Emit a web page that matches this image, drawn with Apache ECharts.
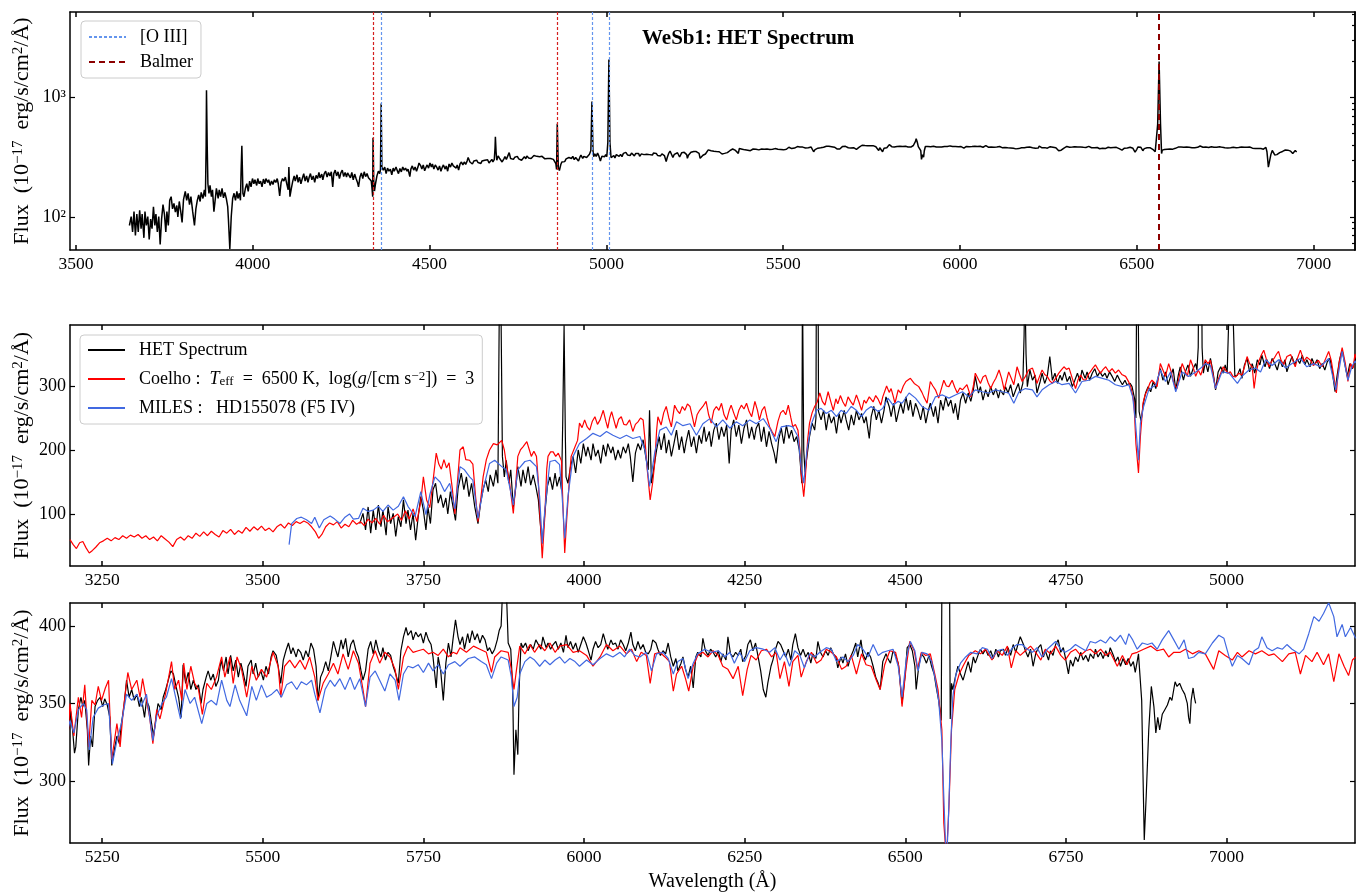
<!DOCTYPE html>
<html>
<head>
<meta charset="utf-8">
<script src="https://cdn.jsdelivr.net/npm/echarts@6/dist/echarts.min.js"></script>
<style>html,body{margin:0;padding:0;background:#fff}#chart{width:1356px;height:896px}</style>
</head>
<body>
<div id="chart"></div>
<script>
// ---------- tick values ----------
const xTicksTop = [3500,4000,4500,5000,5500,6000,6500,7000];
const xTicksMid = [3250,3500,3750,4000,4250,4500,4750,5000];
const xTicksBot = [5250,5500,5750,6000,6250,6500,6750,7000];
const yTicksTop = [100,1000];
const yMinorTop = [60,70,80,90,200,300,400,500,600,700,800,900,2000,3000,4000,5000];
const yTicksMid = [100,200,300];
const yTicksBot = [300,350,400];
// ---------- line identifications (Å) ----------
const oiiiLines = [4363,4959,5007];
const balmerLines = [4340,4861];
const halphaLine = [6563];
// ---------- HET spectrum [wavelength Å, flux] ----------
const hetSpectrum = [
[3651,85],[3656,101],[3660,75],[3664,111],[3668,70],[3672,106],[3676,75],[3680,114],[3684,80],[3687,106],[3692,67],[3695,111],[3699,85],[3703,101],[3707,65],[3711,96],[3715,80],[3719,122],[3723,85],[3726,106],[3730,75],[3734,101],[3738,59],[3742,96],[3746,127],[3750,106],[3754,75],[3757,111],[3761,85],[3765,138],[3769,148],[3773,117],[3777,130],[3781,110],[3785,125],[3788,100],[3792,135],[3796,112],[3800,90],[3804,140],[3809,164],[3813,138],[3817,158],[3821,127],[3825,148],[3830,111],[3835,85],[3839,117],[3843,138],[3847,153],[3851,135],[3854,161],[3859,143],[3863,169],[3866,148],[3868,400],[3869,1150],[3871,400],[3873,190],[3876,158],[3879,184],[3883,148],[3886,169],[3890,111],[3894,143],[3897,174],[3902,143],[3905,169],[3909,148],[3913,174],[3917,145],[3921,161],[3925,143],[3929,122],[3931,96],[3935,54],[3939,101],[3943,143],[3947,158],[3951,138],[3955,164],[3958,143],[3962,158],[3965,138],[3967,250],[3969,395],[3971,220],[3972,158],[3975,148],[3979,174],[3983,190],[3987,164],[3991,200],[3995,179],[3999,210],
[4003,190],[4006,205],[4011,184],[4014,210],[4018,190],[4022,200],[4026,179],[4030,208],[4034,190],[4037,210],[4042,195],[4045,205],[4049,184],[4053,200],[4057,187],[4061,205],[4065,195],[4069,210],[4072,190],[4076,150],[4080,195],[4084,210],[4088,200],[4092,216],[4096,190],[4100,169],[4102,262],[4105,148],[4109,174],[4113,200],[4117,221],[4120,200],[4125,226],[4128,195],[4132,216],[4136,190],[4140,210],[4144,231],[4148,200],[4152,221],[4156,195],[4159,213],[4163,231],[4167,205],[4171,221],[4175,195],[4179,223],[4183,210],[4187,236],[4190,213],[4195,229],[4198,205],[4202,231],[4206,242],[4210,216],[4214,236],[4218,221],[4222,239],[4226,179],[4229,231],[4233,247],[4237,221],[4241,239],[4245,210],[4249,234],[4253,247],[4257,218],[4261,236],[4265,216],[4268,234],[4272,242],[4276,213],[4280,236],[4284,205],[4288,229],[4292,210],[4296,195],[4299,179],[4303,216],[4307,234],[4311,210],[4315,239],[4319,218],[4323,231],[4327,213],[4331,221],[4335,200],[4337,175],[4339,148],[4340,460],[4342,200],[4344,165],[4347,190],[4351,221],[4355,242],[4359,231],[4361,250],[4363,890],[4365,260],[4369,247],[4373,262],[4377,231],[4381,257],[4385,242],[4389,252],[4393,226],[4397,257],[4400,242],[4405,262],[4408,247],[4412,231],[4416,255],[4420,239],[4424,262],[4428,247],[4432,257],[4436,242],[4439,252],[4444,218],[4447,252],[4451,268],[4455,247],[4459,262],[4463,242],[4467,262],[4470,283],[4475,268],[4478,252],[4482,273],[4486,244],[4490,262],
[4493,273],[4497,257],[4501,283],[4505,262],[4508,278],[4512,252],[4516,273],[4520,262],[4524,247],[4528,268],[4532,242],[4536,262],[4539,273],[4544,252],[4547,268],[4551,242],[4555,278],[4559,262],[4563,283],[4567,268],[4571,278],[4575,257],[4578,273],[4582,247],[4586,278],[4590,289],[4594,273],[4598,289],[4602,276],[4606,294],[4609,315],[4614,289],[4617,299],[4621,278],[4625,294],[4629,283],[4633,299],[4637,286],[4641,296],[4645,281],[4648,294],[4653,286],[4656,299],[4660,289],[4664,302],[4668,283],[4672,294],[4676,304],[4679,289],[4683,304],[4685,380],[4686,470],[4688,350],[4690,299],[4694,325],[4698,309],[4702,317],[4705,289],[4710,307],[4713,320],[4717,304],[4721,315],[4725,346],[4729,309],[4733,320],[4737,304],[4741,317],[4744,309],[4748,322],[4752,307],[4756,315],[4760,299],[4764,309],[4768,320],[4772,307],[4775,325],[4780,312],[4783,322],[4787,309],[4791,320],[4795,327],[4799,315],[4803,322],[4807,315],[4811,320],[4814,312],[4818,322],[4822,315],[4826,307],[4830,317],[4834,309],[4838,302],[4842,309],[4845,302],[4850,304],[4853,299],[4857,280],[4859,250],[4861,604],[4864,260],[4867,245],[4871,275],[4874,289],[4878,299],[4882,291],[4886,307],[4890,296],[4894,315],[4897,327],[4901,309],[4905,322],[4909,302],[4913,315],[4917,327],[4921,294],[4925,317],[4928,330],[4933,309],[4936,322],[4940,333],[4944,315],[4948,327],[4952,335],[4954,325],[4956,360],[4959,925],[4962,360],[4964,320],[4967,338],[4971,322],[4975,343],[4979,322],[4983,294],[4987,322],[4991,330],[4995,320],[4998,333],
[5001,320],[5004,420],[5007,2080],[5010,420],[5013,315],[5017,317],[5021,327],[5024,312],[5028,333],[5032,343],[5036,322],[5040,335],[5044,320],[5048,341],[5052,333],[5055,348],[5060,330],[5063,341],[5067,327],[5071,343],[5075,335],[5079,325],[5083,341],[5087,330],[5091,341],[5094,322],[5099,338],[5102,346],[5106,333],[5110,343],[5114,335],[5118,348],[5122,333],[5125,341],[5130,330],[5133,343],[5137,333],[5141,341],[5145,327],[5149,335],[5153,325],[5157,338],[5161,343],[5164,327],[5169,291],[5172,315],[5176,341],[5180,356],[5184,335],[5188,315],[5192,335],[5196,327],
[5201,345],[5204,333],[5207,318],[5209,322],[5213,346],[5217,354],[5220,348],[5223,352],[5227,333],[5229,310],[5232,329],[5235,322],[5239,348],[5243,352],[5247,354],[5251,348],[5254,353],[5258,349],[5262,341],[5265,310],[5269,320],[5273,329],[5277,324],[5280,337],[5284,348],[5288,365],[5292,354],[5296,359],[5300,352],[5304,356],[5308,348],[5311,354],[5316,341],[5319,352],[5323,348],[5327,337],[5330,329],[5334,341],[5337,350],[5342,346],[5345,354],[5349,359],[5353,365],[5357,371],[5361,369],[5365,361],[5369,354],[5373,341],[5376,375],[5380,363],[5384,370],[5388,359],[5392,365],[5396,359],[5400,362],[5404,350],[5407,359],[5412,367],[5415,371],[5419,365],[5423,369],[5427,361],[5431,365],[5435,378],[5439,371],[5443,380],[5446,369],[5450,381],[5454,371],[5458,378],[5462,367],[5466,376],[5470,369],[5474,361],[5477,374],[5482,378],[5485,369],[5489,376],[5493,367],[5497,371],[5501,365],[5505,374],[5509,369],[5513,380],[5516,384],[5521,381],[5524,374],[5528,363],[5532,378],[5536,384],[5540,389],[5544,382],[5547,386],[5552,380],[5555,385],[5559,383],[5563,378],[5567,384],[5571,380],[5575,389],[5579,385],[5583,374],[5586,352],[5590,367],[5594,371],[5598,377],[5602,371],[5606,380],[5610,390],[5614,384],[5617,380],[5622,391],[5625,385],[5629,392],[5633,380],[5637,388],[5641,391],[5645,384],[5649,380],[5653,371],[5656,365],[5660,371],[5664,385],[5668,390],[5672,382],[5676,391],[5680,384],[5684,380],[5687,386],[5691,378],[5695,383],[5699,381],[5703,374],[5707,369],[5711,363],[5715,384],[5719,393],[5723,399],[5726,394],[5731,397],[5734,391],[5738,396],[5742,393],[5746,395],[5750,389],[5754,396],[5758,391],[5762,388],[5765,380],[5770,360],[5773,380],[5777,371],[5781,352],[5785,376],[5789,389],[5793,380],[5796,391],[5800,404],[5804,393],
[5807,388],[5811,393],[5814,385],[5819,395],[5822,389],[5826,397],[5830,391],[5834,395],[5838,389],[5842,394],[5846,391],[5850,384],[5853,386],[5857,382],[5861,385],[5865,391],[5868,397],[5871,400],[5874,430],[5876,452],[5879,425],[5882,389],[5886,385],[5889,359],[5891,304],[5894,333],[5897,317],[5899,359],[5902,389],[5905,386],[5909,389],[5913,384],[5917,388],[5921,385],[5925,391],[5929,388],[5933,385],[5936,393],[5941,386],[5944,389],[5948,385],[5952,388],[5956,390],[5960,385],[5964,389],[5968,383],[5972,394],[5975,386],[5979,390],[5983,385],[5987,389],[5991,383],[5995,388],[5999,393],[6003,389],[6006,385],[6011,378],[6014,385],[6018,390],[6022,386],[6026,388],[6030,395],[6034,389],[6037,385],[6042,391],[6045,388],[6049,389],[6053,385],[6057,391],[6061,388],[6065,384],[6069,389],[6073,396],[6076,388],[6080,384],[6084,390],[6088,385],[6092,388],[6096,383],[6100,382],[6104,385],[6107,391],[6112,389],[6115,385],[6119,381],[6123,384],[6127,382],[6131,389],[6135,380],[6139,374],[6143,379],[6146,371],[6151,376],[6154,380],[6158,372],[6162,367],[6166,374],[6170,360],[6174,380],[6177,383],[6182,380],[6185,392],[6189,384],[6193,381],[6197,385],[6201,383],[6205,380],[6209,384],[6213,377],[6216,382],[6221,378],[6224,393],[6228,382],[6232,380],[6236,383],[6240,381],[6244,385],[6247,377],[6252,381],[6255,388],[6259,391],[6263,384],[6267,389],[6271,380],[6275,371],[6279,359],[6283,354],[6286,363],[6291,374],[6294,378],[6298,385],[6302,390],[6306,388],[6310,384],[6314,380],[6318,385],[6322,378],[6325,388],[6329,395],[6333,386],[6337,381],[6341,385],[6345,380],[6349,383],[6353,376],[6356,382],[6361,379],[6364,390],[6368,383],[6372,380],[6376,384],[6380,381],[6384,386],[6388,382],[6392,380],[6395,373],[6400,380],[6403,376],[6407,382],[6411,374],[6415,380],[6419,384],[6423,389],[6426,380],[6431,391],[6434,382],[6438,378],[6442,383],[6446,380],[6450,374],[6454,367],[6458,363],[6461,359],[6465,377],[6470,382],[6473,379],[6477,376],[6481,384],[6485,381],[6489,376],
[6491,369],[6495,350],[6500,369],[6503,386],[6507,388],[6511,384],[6515,374],[6517,359],[6521,374],[6525,382],[6529,380],[6533,376],[6537,381],[6541,374],[6545,369],[6548,361],[6552,352],[6556,339],[6559,600],[6563,2000],[6567,600],[6570,340],[6572,363],[6574,359],[6578,367],[6582,374],[6586,369],[6590,365],[6594,371],[6598,377],[6602,370],[6606,380],[6609,376],[6614,382],[6617,385],[6621,382],[6625,385],[6629,381],[6633,384],[6637,379],[6641,385],[6645,380],[6648,384],[6653,385],[6656,381],[6660,386],[6664,381],[6668,388],[6672,383],[6676,389],[6679,393],[6684,388],[6687,384],[6691,380],[6695,385],[6699,374],[6703,382],[6707,386],[6711,388],[6715,380],[6718,384],[6723,378],[6726,384],[6730,381],[6734,388],[6738,391],[6742,383],[6746,386],[6749,380],[6754,369],[6757,378],[6761,374],[6765,380],[6769,377],[6773,383],[6777,378],[6781,381],[6785,377],[6788,382],[6793,379],[6796,385],[6800,380],[6804,383],[6808,379],[6812,384],[6816,380],[6819,386],[6824,381],[6827,377],[6831,380],[6835,374],[6839,379],[6843,375],[6847,379],[6851,374],[6855,377],[6858,370],[6863,382],[6865,383],[6868,352],[6870,305],[6872,262],[6875,290],[6879,333],[6883,361],[6887,348],[6890,331],[6893,341],[6896,333],[6900,343],[6904,346],[6908,349],[6912,354],[6915,352],[6920,364],[6923,361],[6927,363],[6931,359],[6935,356],[6939,350],[6941,341],[6943,337],[6945,352],[6948,360],[6950,354],[6952,350]
];
// ---------- Coelho synthetic spectrum ----------
const coelhoModel = [
[3200,60],[3205,52],[3210,46],[3215,55],[3220,57],[3225,47],[3230,39],[3235,43],[3240,48],[3246,55],[3252,58],[3258,62],[3264,58],[3270,63],[3276,60],[3282,66],[3288,62],[3294,67],[3300,64],[3306,68],[3312,62],[3318,66],[3324,60],[3330,64],[3336,58],[3342,66],[3348,61],[3354,56],[3360,49],[3366,60],[3372,64],[3378,59],[3384,66],[3390,62],[3396,70],[3402,65],[3408,72],[3414,66],[3420,73],[3426,68],[3432,64],[3438,74],[3444,70],[3450,76],[3456,68],[3462,74],[3468,70],[3474,79],[3480,73],[3486,80],[3492,75],[3498,81],[3504,74],[3510,78],[3516,72],[3522,80],[3528,84],[3534,78],[3540,86],[3546,82],[3552,88],[3558,85],[3564,89],[3570,86],[3576,80],[3582,72],[3587,62],[3592,68],[3598,80],[3604,86],[3610,83],[3616,88],[3622,78],[3628,84],[3634,80],[3640,90],[3646,84],[3652,88],[3658,82],[3664,92],[3670,86],[3676,93],[3682,84],[3688,98],[3694,88],[3700,92],[3710,100],[3716,90],[3722,105],[3728,92],[3734,108],[3740,88],[3746,120],[3750,158],[3755,122],[3760,110],[3766,160],[3770,195],[3774,178],[3778,170],[3782,185],[3786,172],[3790,180],[3795,140],[3799,100],
[3803,150],[3807,200],[3812,205],[3816,185],[3822,184],[3827,178],[3831,130],[3835,88],[3839,120],[3843,158],[3848,185],[3853,200],[3859,210],[3865,208],[3872,215],[3876,200],[3879,179],[3884,150],[3890,101],[3894,150],[3897,190],[3901,200],[3905,205],[3911,213],[3915,200],[3918,190],[3922,198],[3926,190],[3929,150],[3931,106],[3935,31],[3939,96],[3942,170],[3944,190],[3948,197],[3952,197],[3956,190],[3960,195],[3965,183],[3967,120],[3970,39],[3973,90],[3975,120],[3978,165],[3980,190],[3986,205],[3990,215],[3993,242],[3997,235],[4001,247],[4005,236],[4009,231],[4013,245],[4017,252],[4021,240],[4025,247],[4030,262],[4034,245],[4037,234],[4040,250],[4043,260],[4047,245],[4050,234],[4054,248],[4058,252],[4062,240],[4066,239],[4071,247],[4076,229],[4080,240],[4084,244],[4088,250],[4092,247],[4095,215],[4098,174],[4103,122],[4107,150],[4110,179],[4113,230],[4115,252],[4120,239],[4124,258],[4128,268],[4132,250],[4136,236],[4141,270],[4145,262],[4149,257],[4153,268],[4157,262],[4161,272],[4165,268],[4169,250],[4172,236],[4176,255],[4180,262],[4185,268],[4190,276],[4194,255],[4198,242],[4202,262],[4206,268],[4210,262],[4214,273],[4218,255],[4222,247],[4226,262],[4229,270],[4233,258],[4237,247],[4241,262],[4245,270],[4249,264],[4253,273],[4257,260],[4261,252],[4266,276],[4270,262],[4273,247],[4277,262],[4281,268],[4285,250],[4289,236],[4293,228],[4297,221],[4302,245],[4306,258],[4310,262],[4314,255],[4318,270],[4322,250],[4325,236],[4329,240],[4333,231],[4336,200],[4338,164],[4342,127],[4344,150],[4346,180],[4348,215],[4351,242],[4355,258],[4359,268],[4363,275],[4367,289],[4371,276],[4375,270],[4380,291],[4384,276],[4388,262],[4392,280],[4395,272],[4399,285],[4403,275],[4407,268],[4411,283],[4415,276],[4419,270],[4424,286],[4428,275],[4432,262],[4436,278],[4439,273],[4444,283],[4450,275],[4454,285],[4458,279],[4462,270],[4465,283],[4471,300],[4475,290],[4478,296],[4481,285],[4484,273],[4489,294],
[4493,289],[4497,300],[4501,307],[4508,312],[4514,304],[4521,299],[4526,290],[4529,283],[4534,273],[4539,307],[4543,300],[4547,294],[4552,281],[4556,295],[4560,309],[4564,300],[4568,299],[4573,309],[4577,298],[4581,289],[4585,297],[4589,294],[4596,302],[4602,283],[4606,300],[4609,320],[4613,312],[4617,304],[4621,314],[4625,317],[4629,305],[4633,296],[4637,305],[4641,312],[4646,325],[4650,312],[4654,294],[4658,310],[4661,322],[4665,312],[4669,302],[4674,330],[4678,318],[4682,307],[4687,315],[4692,325],[4698,328],[4702,316],[4705,304],[4709,315],[4713,325],[4717,318],[4721,315],[4725,308],[4729,304],[4734,312],[4739,320],[4743,325],[4747,330],[4751,326],[4755,328],[4760,312],[4765,296],[4769,310],[4773,317],[4777,310],[4781,309],[4785,318],[4788,322],[4792,328],[4796,333],[4800,326],[4804,320],[4808,326],[4812,330],[4817,322],[4822,327],[4827,320],[4832,325],[4837,318],[4843,315],[4848,306],[4851,299],[4854,285],[4856,273],[4859,210],[4863,164],[4866,221],[4870,273],[4873,285],[4877,294],[4881,305],[4884,309],[4888,305],[4892,299],[4897,335],[4901,325],[4905,315],[4910,335],[4914,322],[4918,304],[4923,296],[4927,318],[4931,335],[4935,325],[4939,315],[4944,341],[4948,330],[4952,315],[4956,325],[4960,317],[4964,330],[4967,341],[4971,335],[4975,340],[4979,318],[4983,296],[4987,310],[4991,320],[4995,330],[4998,327],[5002,320],[5006,322],[5010,315],[5014,314],[5019,320],[5024,317],[5028,330],[5032,346],[5036,335],[5040,330],[5043,296],[5046,320],[5050,338],[5054,348],[5058,356],[5062,342],[5066,330],[5070,338],[5074,343],[5078,350],[5081,354],[5085,340],[5089,333],[5094,346],[5100,349],[5104,338],[5107,330],[5111,345],[5115,356],[5118,347],[5120,338],[5125,345],[5131,340],[5135,332],[5138,333],[5143,340],[5149,330],[5154,342],[5159,354],[5163,340],[5167,315],[5171,289],[5175,335],[5180,360],[5185,335],[5189,307],[5193,335],[5197,328],
[5200,350],[5206,329],[5213,354],[5218,341],[5223,362],[5229,322],[5234,352],[5239,349],[5244,361],[5249,352],[5255,360],[5260,365],[5265,314],[5273,337],[5278,322],[5283,346],[5290,370],[5296,359],[5304,365],[5309,354],[5313,366],[5319,352],[5324,341],[5329,324],[5335,346],[5340,340],[5345,349],[5350,359],[5358,377],[5363,359],[5369,365],[5374,352],[5377,376],[5382,359],[5388,374],[5394,363],[5400,359],[5406,343],[5413,363],[5420,359],[5428,367],[5436,380],[5441,367],[5449,380],[5454,363],[5460,380],[5467,372],[5475,354],[5483,374],[5490,365],[5498,372],[5506,367],[5516,383],[5524,374],[5528,354],[5534,374],[5542,378],[5550,373],[5558,378],[5566,372],[5573,380],[5581,367],[5586,352],[5594,363],[5602,369],[5610,376],[5617,369],[5625,382],[5633,372],[5641,384],[5649,376],[5656,359],[5660,348],[5667,376],[5675,384],[5682,376],[5690,383],[5698,380],[5706,372],[5711,359],[5719,380],[5726,387],[5734,383],[5742,384],[5750,385],[5758,382],[5765,383],[5773,381],[5781,385],[5789,380],[5796,383],[5802,382],[5807,386],[5817,383],[5828,387],[5838,385],[5848,383],[5856,370],[5861,380],[5871,384],[5882,383],[5887,372],[5891,359],[5895,372],[5900,387],[5908,382],[5916,388],[5923,383],[5931,388],[5939,384],[5947,389],[5955,383],[5962,387],[5973,388],[5983,383],[5993,384],[6004,381],[6014,374],[6025,380],[6035,388],[6045,384],[6056,387],[6066,382],[6074,385],[6082,377],[6089,383],[6097,381],[6103,363],[6110,382],[6118,383],[6126,380],[6133,377],[6139,358],[6144,369],[6152,374],[6158,366],[6163,358],[6170,374],[6177,381],[6185,383],[6193,380],[6201,384],[6209,381],[6216,374],[6224,372],[6232,366],[6240,374],[6247,355],[6254,372],[6260,381],[6268,378],[6276,384],[6284,385],[6292,380],[6299,383],[6305,366],[6312,377],[6319,361],[6325,377],[6333,381],[6338,367],[6346,377],[6354,383],[6362,376],[6369,378],[6377,385],[6385,383],[6393,380],[6401,372],[6408,374],[6416,381],[6424,369],[6432,382],[6439,375],[6447,374],[6455,365],[6461,359],[6468,375],[6476,384],
[6485,383],[6490,374],[6495,348],[6501,372],[6507,390],[6514,384],[6519,372],[6525,383],[6532,381],[6539,382],[6546,369],[6551,359],[6557,333],[6560,273],[6564,250],[6568,283],[6572,333],[6577,359],[6584,369],[6591,375],[6599,381],[6609,384],[6617,382],[6625,385],[6635,378],[6643,384],[6651,381],[6659,387],[6665,373],[6672,384],[6679,381],[6687,384],[6695,387],[6703,383],[6711,378],[6718,385],[6726,382],[6734,387],[6742,381],[6749,378],[6757,383],[6765,385],[6773,381],[6781,384],[6788,385],[6796,382],[6804,385],[6812,381],[6819,383],[6830,374],[6838,381],[6845,375],[6853,382],[6861,383],[6871,385],[6882,387],[6892,384],[6902,385],[6910,380],[6918,383],[6928,383],[6936,385],[6947,382],[6957,384],[6967,382],[6980,372],[6988,384],[6998,381],[7009,378],[7017,383],[7024,380],[7035,384],[7045,382],[7055,384],[7066,381],[7074,382],[7087,377],[7097,382],[7107,383],[7115,369],[7123,381],[7133,377],[7141,383],[7151,375],[7159,382],[7167,364],[7175,382],[7183,374],[7190,368],[7196,378],[7201,380]
];
// ---------- MILES star HD155078 ----------
const milesStar = [
[3541,52],[3545,85],[3553,93],[3560,95],[3568,91],[3576,85],[3581,95],[3588,78],[3595,91],[3605,97],[3612,92],[3620,85],[3628,95],[3635,100],[3641,92],[3649,93],[3656,109],[3664,104],[3672,106],[3680,112],[3687,104],[3695,114],[3703,106],[3711,112],[3719,127],[3726,112],[3737,96],[3746,135],[3754,99],[3760,130],[3768,158],[3776,150],[3783,135],[3791,148],[3799,108],[3807,174],[3814,169],[3822,158],[3827,153],[3835,93],[3843,138],[3853,179],[3861,184],[3872,174],[3879,169],[3890,114],[3897,169],[3908,182],[3916,184],[3926,174],[3931,127],[3935,54],[3939,106],[3947,182],[3955,184],[3962,177],[3966,127],[3970,62],[3975,127],[3983,190],[3993,210],
[4004,218],[4014,226],[4025,221],[4035,229],[4045,223],[4056,218],[4066,223],[4076,218],[4087,221],[4095,200],[4102,143],[4110,195],[4118,231],[4128,236],[4136,223],[4144,244],[4154,238],[4165,241],[4175,223],[4185,241],[4196,249],[4206,236],[4216,247],[4227,234],[4237,244],[4247,238],[4258,247],[4268,241],[4279,249],[4289,234],[4299,213],[4307,236],[4318,238],[4325,236],[4333,221],[4338,174],[4342,148],[4347,200],[4354,241],[4362,262],[4369,265],[4377,257],[4385,262],[4393,252],[4400,262],[4408,257],[4416,268],[4424,262],[4432,252],[4439,262],[4447,268],[4458,260],[4465,265],[4473,281],[4481,270],[4489,276],[4495,273],[4506,289],[4516,281],[4526,268],[4537,262],[4547,283],[4558,286],[4568,281],[4578,286],[4589,291],[4599,283],[4609,294],[4620,291],[4630,289],[4641,294],[4651,291],[4661,289],[4669,273],[4677,291],[4687,296],[4698,294],[4705,283],[4713,294],[4724,302],[4734,307],[4744,302],[4755,304],[4765,289],[4775,307],[4786,309],[4796,315],[4807,312],[4817,309],[4827,302],[4838,299],[4848,302],[4854,283],[4858,247],[4863,184],[4866,242],[4871,268],[4879,294],[4890,302],[4897,325],[4905,307],[4913,322],[4921,291],[4931,322],[4941,315],[4952,322],[4960,328],[4967,335],[4975,332],[4983,296],[4993,322],[5004,320],[5017,304],[5024,315],[5035,325],[5045,328],[5053,322],[5061,341],[5071,332],[5081,341],[5092,328],[5102,335],[5115,343],[5125,330],[5136,335],[5146,330],[5159,343],[5170,294],[5180,354],[5189,309],[5195,330],
[5200,339],[5206,331],[5213,346],[5221,350],[5226,346],[5230,320],[5236,341],[5244,347],[5252,349],[5260,350],[5266,311],[5273,326],[5280,337],[5288,356],[5296,352],[5304,356],[5311,348],[5319,356],[5329,326],[5335,342],[5343,350],[5350,354],[5358,366],[5366,351],[5372,340],[5379,359],[5387,350],[5394,354],[5405,337],[5413,350],[5420,352],[5428,349],[5436,365],[5444,352],[5449,348],[5457,362],[5464,352],[5475,342],[5483,361],[5490,352],[5498,362],[5506,354],[5514,356],[5522,359],[5529,354],[5537,362],[5545,364],[5553,359],[5560,364],[5568,362],[5576,365],[5581,356],[5589,344],[5597,359],[5605,365],[5612,361],[5620,366],[5628,359],[5636,367],[5643,359],[5651,366],[5660,348],[5667,367],[5675,371],[5682,365],[5690,358],[5698,369],[5706,365],[5712,352],[5719,369],[5726,374],[5734,373],[5742,375],[5750,370],[5758,376],[5765,371],[5773,375],[5781,369],[5789,375],[5799,377],[5807,374],[5820,379],[5830,380],[5840,377],[5848,375],[5856,366],[5864,376],[5871,380],[5882,378],[5887,367],[5891,348],[5896,354],[5900,369],[5908,377],[5916,380],[5923,378],[5931,374],[5939,378],[5947,375],[5955,378],[5962,380],[5970,376],[5978,379],[5986,377],[5993,374],[6004,378],[6014,375],[6025,379],[6035,382],[6045,380],[6056,383],[6063,380],[6071,385],[6079,381],[6087,380],[6097,383],[6105,371],[6113,382],[6123,383],[6131,379],[6139,369],[6146,377],[6154,379],[6162,366],[6170,376],[6177,382],[6188,385],[6198,383],[6209,384],[6219,380],[6227,383],[6234,376],[6242,383],[6250,377],[6258,384],[6268,386],[6279,385],[6289,383],[6297,386],[6305,378],[6312,383],[6320,374],[6328,384],[6336,381],[6343,373],[6351,382],[6359,380],[6367,383],[6377,386],[6385,385],[6393,377],[6403,380],[6411,377],[6419,381],[6426,388],[6434,385],[6442,380],[6450,388],[6458,381],[6465,383],[6473,384],[6481,385],
[6489,374],[6495,354],[6502,380],[6508,390],[6515,384],[6520,371],[6526,383],[6534,382],[6541,377],[6547,365],[6552,352],[6557,326],[6560,290],[6564,245],[6567,273],[6571,326],[6574,354],[6579,369],[6586,376],[6594,380],[6602,383],[6612,382],[6620,386],[6628,385],[6635,379],[6643,384],[6651,385],[6659,381],[6667,386],[6674,388],[6682,388],[6690,385],[6698,383],[6705,386],[6713,380],[6721,385],[6729,388],[6734,390],[6742,385],[6749,383],[6757,385],[6765,388],[6773,386],[6781,384],[6788,390],[6796,389],[6804,391],[6812,389],[6819,393],[6827,390],[6835,394],[6843,388],[6848,395],[6854,391],[6861,385],[6869,389],[6877,388],[6884,389],[6892,385],[6900,391],[6910,397],[6918,391],[6926,385],[6934,391],[6941,379],[6949,380],[6957,383],[6967,382],[6978,389],[6988,394],[6996,392],[7004,380],[7009,374],[7017,381],[7024,379],[7035,375],[7043,384],[7050,386],[7055,393],[7063,386],[7071,384],[7079,386],[7087,385],[7094,388],[7102,385],[7113,382],[7120,385],[7128,395],[7136,406],[7144,403],[7151,408],[7159,415],[7167,406],[7172,393],[7180,401],[7185,393],[7193,399],[7201,392]
];

// ---------- chart ----------
const FONT = 'Liberation Serif';
const chart = echarts.init(document.getElementById('chart'), null, {renderer: 'canvas'});

const yName = 'Flux  (10{sup|−17}  erg/s/cm{sup|2}/Å)';
const nameStyle = {
  fontFamily: FONT, fontSize: 22, color: '#000',
  rich: { sup: { fontFamily: FONT, fontSize: 15, verticalAlign: 'top', color: '#000' } }
};

function xAx(gi, min, max, ticks, pos, labels, name) {
  return {
    type: 'value', gridIndex: gi, position: pos, min: min, max: max,
    axisLine: { show: true, onZero: false, lineStyle: { color: '#000', width: 1.5 } },
    axisTick: { show: true, inside: true, length: 5, lineStyle: { color: '#000', width: 1.5 }, customValues: ticks },
    axisLabel: { show: labels, customValues: ticks, color: '#000', fontFamily: FONT, fontSize: 17.5, margin: 5,
                 formatter: v => String(v) },
    splitLine: { show: false },
    name: name || '', nameLocation: 'middle', nameGap: 29, nameMoveOverlap: false,
    nameTextStyle: { fontFamily: FONT, fontSize: 20, color: '#000' }
  };
}
function yAx(gi, type, min, max, ticks, pos, labels, name, fmt, len) {
  return {
    type: type, gridIndex: gi, position: pos, min: min, max: max,
    axisLine: { show: true, onZero: false, lineStyle: { color: '#000', width: 1.5 } },
    axisTick: { show: true, inside: true, length: len || 5, lineStyle: { color: '#000', width: 1.2 }, customValues: ticks },
    axisLabel: { show: labels, customValues: ticks, color: '#000', fontFamily: FONT, fontSize: 18, margin: 4,
                 formatter: fmt || (v => String(v)) },
    splitLine: { show: false },
    name: name || '', nameLocation: 'middle', nameGap: 37, nameMoveOverlap: false,
    nameTextStyle: nameStyle
  };
}
const logFmt = v => (Math.abs(v - 100) < 1 ? '10²' : (Math.abs(v - 1000) < 1 ? '10³' : ''));

function vLines(values, style) {
  return { silent: true, symbol: ['none', 'none'], label: { show: false },
           lineStyle: style, emphasis: { disabled: true },
           data: values.map(v => ({ xAxis: v })) };
}
const oiiiStyle = { color: '#6495ED', width: 1.2, type: [3, 2], opacity: 1 };
const balmerThin = { color: '#d42020', width: 1.2, type: [3, 2], opacity: 1 };
const balmerThick = { color: '#8B0000', width: 2, type: [6, 4], opacity: 1 };

const option = {
  animation: false,
  backgroundColor: '#ffffff',
  title: {
    text: 'WeSb1: HET Spectrum', left: 637, top: 23,
    textStyle: { fontFamily: FONT, fontWeight: 'bold', fontSize: 21, color: '#000' }
  },
  grid: [
    { left: 70, top: 12, width: 1285, height: 238 },
    { left: 70, top: 325, width: 1285, height: 241 },
    { left: 70, top: 603, width: 1285, height: 240 }
  ],
  xAxis: [
    xAx(0, 3483, 7117, xTicksTop, 'bottom', true),
    xAx(0, 3483, 7117, xTicksTop, 'top', false),
    xAx(1, 3200, 5200, xTicksMid, 'bottom', true),
    xAx(1, 3200, 5200, xTicksMid, 'top', false),
    xAx(2, 5200, 7200, xTicksBot, 'bottom', true, 'Wavelength (Å)'),
    xAx(2, 5200, 7200, xTicksBot, 'top', false)
  ],
  yAxis: [
    yAx(0, 'log', 53, 5200, yTicksTop, 'left', true, yName, logFmt),
    yAx(0, 'log', 53, 5200, yTicksTop, 'right', false),
    yAx(0, 'log', 53, 5200, yMinorTop, 'right', false, '', null, 3),
    yAx(1, 'value', 18.7, 395.3, yTicksMid, 'left', true, yName),
    yAx(1, 'value', 18.7, 395.3, yTicksMid, 'right', false),
    yAx(2, 'value', 260, 414.8, yTicksBot, 'left', true, yName),
    yAx(2, 'value', 260, 414.8, yTicksBot, 'right', false)
  ],
  legend: [
    {
      orient: 'vertical', left: 81, top: 21, data: ['[O III]', 'Balmer'],
      itemWidth: 37, itemHeight: 18, itemGap: 7, padding: [7, 8, 7, 7],
      borderColor: '#cccccc', borderWidth: 1, borderRadius: 4, backgroundColor: '#ffffff',
      selectedMode: false, itemStyle: { opacity: 0 },
      textStyle: { fontFamily: FONT, fontSize: 18, color: '#000', padding: [0, 0, 0, 9] }
    },
    {
      orient: 'vertical', left: 80, top: 335, data: ['HET Spectrum', 'Coelho', 'MILES'],
      itemWidth: 37, itemHeight: 20, itemGap: 11, padding: [6, 8, 7, 7],
      borderColor: '#cccccc', borderWidth: 1, borderRadius: 4, backgroundColor: '#ffffff',
      selectedMode: false, itemStyle: { opacity: 0 },
      formatter: function (name) {
        if (name === 'Coelho') return 'Coelho :  {i|T}{sub|eff}  =  6500 K,  log({i|g}/[cm s{sup|−2}])  =  3';
        if (name === 'MILES') return 'MILES :   HD155078 (F5 IV)';
        return name;
      },
      textStyle: {
        fontFamily: FONT, fontSize: 18, color: '#000', padding: [0, 0, 0, 9],
        rich: {
          i: { fontFamily: FONT, fontSize: 18, fontStyle: 'italic', color: '#000' },
          sub: { fontFamily: FONT, fontSize: 13, verticalAlign: 'bottom', color: '#000' },
          sup: { fontFamily: FONT, fontSize: 13, verticalAlign: 'top', color: '#000' }
        }
      }
    }
  ],
  series: [
    { name: 'HET Spectrum', type: 'line', xAxisIndex: 0, yAxisIndex: 0, data: hetSpectrum,
      symbol: 'none', lineStyle: { color: '#000', width: 1.5 }, itemStyle: { color: '#000' }, z: 2 },
    { name: '[O III]', type: 'line', xAxisIndex: 0, yAxisIndex: 0, data: [], z: 3,
      symbol: 'none', lineStyle: oiiiStyle, itemStyle: { color: '#6495ED' },
      markLine: vLines(oiiiLines, oiiiStyle) },
    { name: 'Balmer', type: 'line', xAxisIndex: 0, yAxisIndex: 0, data: [], z: 3,
      symbol: 'none', lineStyle: balmerThick, itemStyle: { color: '#8B0000' },
      markLine: vLines(halphaLine, balmerThick) },
    { name: 'Balmer', type: 'line', xAxisIndex: 0, yAxisIndex: 0, data: [], z: 3,
      symbol: 'none', lineStyle: balmerThin, itemStyle: { color: '#d42020' },
      markLine: vLines(balmerLines, balmerThin) },
    { name: 'HET Spectrum', type: 'line', xAxisIndex: 2, yAxisIndex: 3, data: hetSpectrum,
      symbol: 'none', lineStyle: { color: '#000', width: 1.2 }, itemStyle: { color: '#000' } },
    { name: 'Coelho', type: 'line', xAxisIndex: 2, yAxisIndex: 3, data: coelhoModel,
      symbol: 'none', lineStyle: { color: '#ff0000', width: 1.2 }, itemStyle: { color: '#ff0000' } },
    { name: 'MILES', type: 'line', xAxisIndex: 2, yAxisIndex: 3, data: milesStar,
      symbol: 'none', lineStyle: { color: '#4169E1', width: 1.2 }, itemStyle: { color: '#4169E1' } },
    { name: 'HET Spectrum', type: 'line', xAxisIndex: 4, yAxisIndex: 5, data: hetSpectrum,
      symbol: 'none', lineStyle: { color: '#000', width: 1.2 }, itemStyle: { color: '#000' } },
    { name: 'Coelho', type: 'line', xAxisIndex: 4, yAxisIndex: 5, data: coelhoModel,
      symbol: 'none', lineStyle: { color: '#ff0000', width: 1.2 }, itemStyle: { color: '#ff0000' } },
    { name: 'MILES', type: 'line', xAxisIndex: 4, yAxisIndex: 5, data: milesStar,
      symbol: 'none', lineStyle: { color: '#4169E1', width: 1.2 }, itemStyle: { color: '#4169E1' } }
  ]
};
chart.setOption(option);
</script>
</body>
</html>
